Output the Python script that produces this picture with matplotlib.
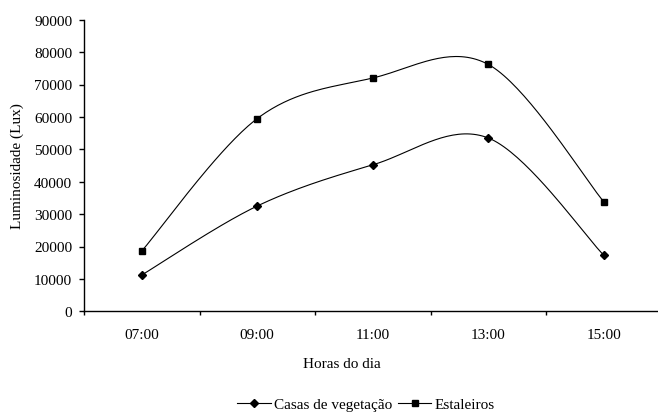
import matplotlib
matplotlib.use("Agg")
import matplotlib.pyplot as plt
import numpy as np

plt.rcParams['font.family'] = ['Liberation Serif', 'DejaVu Serif']

horas = ["07:00", "09:00", "11:00", "13:00", "15:00"]
casas = [11200, 32500, 45200, 53500, 17300]
estaleiros = [18600, 59500, 72000, 76200, 33800]


def smooth(xs, ys, n=40):
    # spline like excel "smoothed line" (catmull-rom as bezier)
    p = np.column_stack([xs, ys]).astype(float)
    p = np.vstack([p[0], p, p[-1]])
    out = []
    t = np.linspace(0, 1, n)[:, None]
    for i in range(1, len(p) - 2):
        p0, p1, p2, p3 = p[i], p[i + 1], p[i - 1], p[i + 2]
        c1 = p0 + (p1 - p2) / 6.0
        c2 = p1 - (p3 - p0) / 6.0
        seg = ((1 - t) ** 3) * p0 + 3 * ((1 - t) ** 2) * t * c1 + 3 * (1 - t) * t ** 2 * c2 + t ** 3 * p1
        out.append(seg)
    out = np.vstack(out)
    return out[:, 0], out[:, 1]


x = np.arange(len(horas))

fig = plt.figure(figsize=(6.58, 4.14), dpi=100)
ax = fig.add_axes([84 / 658, 1 - 312.3 / 414, 577.5 / 658, 291.6 / 414])

lw = 0.8
sx, sy = smooth(x, casas)
ax.plot(sx, sy, color="black", linewidth=lw)
ax.plot(x, casas, linestyle="none", marker="D", markersize=4, color="black")
sx, sy = smooth(x, estaleiros)
ax.plot(sx, sy, color="black", linewidth=lw)
ax.plot(x, estaleiros, linestyle="none", marker="s", markersize=5, color="black")

# legend handles
h1, = ax.plot([], [], color="black", linewidth=lw, marker="D", markersize=4, label="Casas de vegetação")
h2, = ax.plot([], [], color="black", linewidth=lw, marker="s", markersize=5, label="Estaleiros")

ax.set_xlim(-0.5, 4.5)
ax.set_ylim(0, 90000)
ax.set_yticks(np.arange(0, 90001, 10000))
ax.set_xticks(np.arange(-0.5, 5, 1))
ax.set_xticklabels([])
ax.set_xticks(x, minor=True)
ax.set_xticklabels(horas, minor=True)
ax.tick_params(axis="x", which="major", direction="out", length=3, width=1)
ax.tick_params(axis="x", which="minor", length=0, pad=12, labelsize=11)
ax.tick_params(axis="y", direction="out", length=3.5, width=1, pad=5, labelsize=11)

for s in ["top", "right"]:
    ax.spines[s].set_visible(False)
for s in ["left", "bottom"]:
    ax.spines[s].set_linewidth(1)

ax.set_ylabel("Luminosidade (Lux)", fontsize=11, labelpad=7)
fig.text(342 / 658, 1 - 365 / 414, "Horas do dia", ha="center", va="center", fontsize=11)

fig.legend(handles=[h1, h2], loc="center", bbox_to_anchor=(366 / 658, 1 - 405 / 414),
           ncol=2, frameon=False, fontsize=11, handlelength=2.2, handletextpad=0.2,
           columnspacing=0.35)

fig.savefig("out.png", dpi=100)
